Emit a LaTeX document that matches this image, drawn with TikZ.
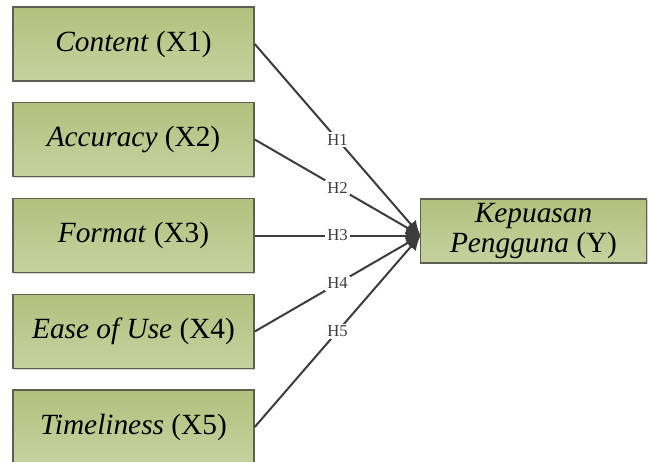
\documentclass[tikz,border=0pt]{standalone}
\usepackage{fontspec}
\setmainfont{Liberation Serif}
\usetikzlibrary{arrows.meta,shadows}
\definecolor{hijauatas}{HTML}{B3C07D}
\definecolor{hijaubawah}{HTML}{C5D29F}
\definecolor{tepikotak}{HTML}{5C6050}
\definecolor{garispanah}{HTML}{3C3C3C}

\begin{document}
\begin{tikzpicture}[x=0.75pt, y=-0.75pt,
    variabel/.style={draw=tepikotak, line width=1.1pt, top color=hijauatas, bottom color=hijaubawah,
        inner sep=0pt, align=center, font=\fontsize{22}{23}\selectfont,
        drop shadow={shadow xshift=0.9pt, shadow yshift=-0.9pt, fill=black!22, opacity=0.8}},
    bebas/.style={variabel, minimum width=180.75pt, minimum height=55.5pt},
    terikat/.style={variabel, minimum width=169.5pt, minimum height=48pt},
    panah/.style={-{Latex[length=11pt, width=10pt]}, line width=1.5pt, garispanah},
    hipotesis/.style={fill=white, inner sep=1.5pt, font=\fontsize{12.5}{12.5}\selectfont}]
    \useasboundingbox (0,0) rectangle (648,461);

    % Variabel bebas
    \node[bebas] (X1) at (133.5,44) {\textit{Content} (X1)};
    \node[bebas] (X2) at (133.5,139.5) {\textit{Accuracy} (X2)};
    \node[bebas] (X3) at (133.5,235.5) {\textit{Format} (X3)};
    \node[bebas] (X4) at (133.5,331.5) {\textit{Ease of Use} (X4)};
    \node[bebas] (X5) at (133.5,427) {\textit{Timeliness} (X5)};

    % Variabel terikat
    \node[terikat] (Y) at (533.5,231) {\textit{Kepuasan}\\\textit{Pengguna} (Y)};
    \coordinate (ujung) at (420.5,235.5);

    % Hipotesis
    \draw[panah] (X1.east) -- (ujung) node[midway, hipotesis] {H1};
    \draw[panah] (X2.east) -- (ujung) node[midway, hipotesis] {H2};
    \draw[panah] (X3.east) -- (ujung) node[midway, hipotesis] {H3};
    \draw[panah] (X4.east) -- (ujung) node[midway, hipotesis] {H4};
    \draw[panah] (X5.east) -- (ujung) node[midway, hipotesis] {H5};
\end{tikzpicture}
\end{document}
